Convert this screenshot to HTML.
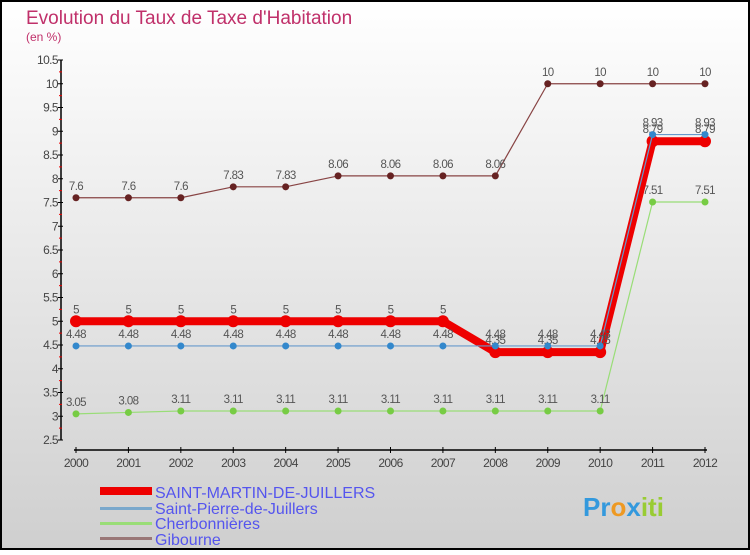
<!DOCTYPE html>
<html><head><meta charset="utf-8"><style>
body{margin:0;width:750px;height:550px;overflow:hidden;font-family:"Liberation Sans",sans-serif}
</style></head><body>
<svg id="chart" width="750" height="550" xmlns="http://www.w3.org/2000/svg">
<defs><linearGradient id="bg" x1="0" y1="0" x2="0" y2="1"><stop offset="0" stop-color="#ffffff"/><stop offset="1" stop-color="#cfcfcf"/></linearGradient></defs>
<rect x="1" y="1" width="748" height="548" fill="url(#bg)" stroke="#000" stroke-width="2"/>
<text x="26" y="24" font-size="19" fill="#c0306a" font-weight="normal">Evolution du Taux de Taxe d'Habitation</text>
<text x="26" y="41" font-size="12" fill="#c0306a">(en %)</text>
<g id="axes"></g><g id="series"></g>
<g font-size="16" fill="#5555ee">
<rect x="100" y="487" width="52" height="8" fill="#ee0000"/>
<text x="155" y="498">SAINT-MARTIN-DE-JUILLERS</text>
<rect x="100" y="507" width="52" height="3" fill="#7aa8cc"/>
<text x="155" y="514">Saint-Pierre-de-Juillers</text>
<rect x="100" y="522" width="52" height="3" fill="#99dd77"/>
<text x="155" y="529">Cherbonnières</text>
<rect x="100" y="537" width="52" height="3" fill="#997777"/>
<text x="155" y="545">Gibourne</text>
</g>
<g font-size="26" font-weight="600">
<text x="583" y="516" fill="#3399dd">Pr<tspan fill="#ee9922">o</tspan><tspan fill="#3399dd">x</tspan><tspan fill="#99cc33">iti</tspan></text>
</g>
</svg>
<script>
const years=[2000,2001,2002,2003,2004,2005,2006,2007,2008,2009,2010,2011,2012];
const yTicks=[2.5,3,3.5,4,4.5,5,5.5,6,6.5,7,7.5,8,8.5,9,9.5,10,10.5];
const gibourne=[7.6,7.6,7.6,7.83,7.83,8.06,8.06,8.06,8.06,10,10,10,10];
const cherbonnieres=[3.05,3.08,3.11,3.11,3.11,3.11,3.11,3.11,3.11,3.11,3.11,7.51,7.51];
const saintPierre=[4.48,4.48,4.48,4.48,4.48,4.48,4.48,4.48,4.48,4.48,4.48,8.93,8.93];
const saintMartin=[5,5,5,5,5,5,5,5,4.35,4.35,4.35,8.79,8.79];
const NS="http://www.w3.org/2000/svg";
const xS=i=>76+i*(705-76)/12;
const yS=v=>440-(v-2.5)*47.5;
function mk(tag,attrs,parent){const e=document.createElementNS(NS,tag);for(const k in attrs)e.setAttribute(k,attrs[k]);parent.appendChild(e);return e;}
const axes=document.getElementById('axes');
let ya=mk('line',{x1:61,y1:yS(10.5),x2:61,y2:yS(2.5),stroke:'#000','stroke-width':1.5},axes);


yTicks.forEach((t,i)=>{
 mk('line',{x1:58,x2:63,y1:yS(t),y2:yS(t),stroke:'#000'},axes);
 if(i<yTicks.length-1) mk('line',{x1:59,x2:62,y1:yS(t+0.25),y2:yS(t+0.25),stroke:'#e00'},axes);
 const tx=mk('text',{x:58,y:yS(t)+4,'text-anchor':'end','font-size':12,fill:'#444','letter-spacing':'-0.6'},axes);
 
 
 tx.textContent=String(t);
});
let xa=mk('line',{x1:74,y1:450,x2:707,y2:450,stroke:'#000','stroke-width':1.5},axes);


years.forEach((y,i)=>{
 mk('line',{x1:xS(i),x2:xS(i),y1:447,y2:453,stroke:'#000'},axes);
 const tx=mk('text',{x:xS(i),y:467,'text-anchor':'middle','font-size':12,fill:'#444','letter-spacing':'-0.6'},axes);
 
 
 tx.textContent=String(y);
});
const sg=document.getElementById('series');
function draw(name,vals,color,w,r,dot,labels){
 const g=mk('g',{},sg);
 
 
 mk('polyline',{points:vals.map((v,i)=>xS(i)+','+yS(v)).join(' '),fill:'none',stroke:color,'stroke-width':w,'stroke-linejoin':'round'},g);
 vals.forEach((v,i)=>{
  const c=mk('circle',{cx:xS(i),cy:yS(v),r:r,fill:dot},g);
  
  
  if(labels){const t=mk('text',{x:xS(i),y:yS(v)-8,'text-anchor':'middle','font-size':11.5,fill:'#555','letter-spacing':'-0.6'},g);
  
  
  t.textContent=String(v);}
 });
}
draw('series-gibourne',gibourne,'#884444',1.2,3.5,'#662222',true);
draw('series-cherbonnieres',cherbonnieres,'#99dd77',1.2,3.5,'#77cc44',true);
draw('series-saint-martin',saintMartin,'#ee0000',8,6,'#ee0000',true);
draw('series-saint-pierre',saintPierre,'#6699cc',1.2,3.5,'#3388cc',true);
</script>
</body></html>
